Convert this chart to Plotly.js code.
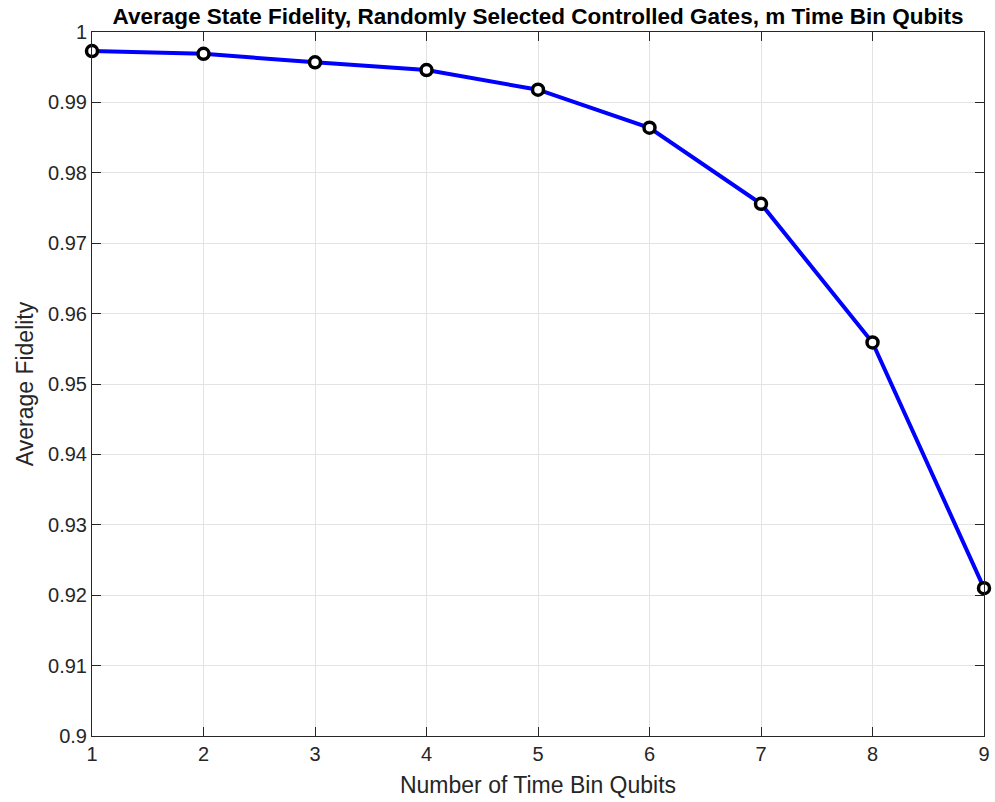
<!DOCTYPE html>
<html><head><meta charset="utf-8">
<script src="https://cdn.plot.ly/plotly-3.0.1.min.js"></script>
<style>body{margin:0;background:#fff}#c{width:995px;height:802px}</style>
</head><body><div id="c"></div>
<script>
const qubits = [1, 2, 3, 4, 5, 6, 7, 8, 9];
const fidelity = [0.9973, 0.9969, 0.9957, 0.9946, 0.9918, 0.9864, 0.9756, 0.9559, 0.9210];
const yTicks = [0.9, 0.91, 0.92, 0.93, 0.94, 0.95, 0.96, 0.97, 0.98, 0.99, 1];
const yTickText = ['0.9', '0.91', '0.92', '0.93', '0.94', '0.95', '0.96', '0.97', '0.98', '0.99', '1'];

const FONT = 'Liberation Sans, Arial, sans-serif';
const axisCommon = {
  showline: true, mirror: 'ticks', linecolor: '#262626', linewidth: 1,
  ticks: 'inside', ticklen: 9, tickcolor: '#262626',
  showgrid: true, gridcolor: '#e3e3e3', gridwidth: 1, zeroline: false,
  tickfont: {family: FONT, size: 20, color: '#262626'}
};

Plotly.newPlot('c', [{
  x: qubits, y: fidelity, type: 'scatter', mode: 'lines+markers',
  line: {color: '#0000ff', width: 4},
  marker: {symbol: 'circle', size: 11, color: '#ffffff', line: {color: '#000000', width: 3.5}},
  cliponaxis: false, hoverinfo: 'skip'
}], {
  width: 995, height: 802,
  margin: {l: 91.5, r: 11, t: 31.5, b: 66},
  paper_bgcolor: '#ffffff', plot_bgcolor: '#ffffff',
  showlegend: false,
  title: {text: '<b>Average State Fidelity, Randomly Selected Controlled Gates, m Time Bin Qubits</b>',
    font: {family: FONT, size: 22.5, color: '#000000'},
    x: 0.5, xref: 'paper', y: 0.98, yref: 'container', yanchor: 'middle'},
  xaxis: Object.assign({}, axisCommon, {
    range: [1, 9], tickvals: qubits, ticktext: qubits.map(String),
    title: {text: 'Number of Time Bin Qubits', standoff: 12,
      font: {family: FONT, size: 23, color: '#262626'}}
  }),
  yaxis: Object.assign({}, axisCommon, {
    range: [0.9, 1], tickvals: yTicks, ticktext: yTickText,
    title: {text: 'Average Fidelity', standoff: 8,
      font: {family: FONT, size: 23, color: '#262626'}}
  })
}, {displayModeBar: false});
</script></body></html>
